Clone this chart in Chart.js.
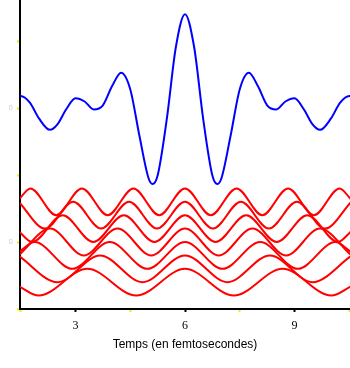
<!DOCTYPE html>
<html>
<head>
<meta charset="utf-8">
<script src="https://cdn.jsdelivr.net/npm/chart.js@4.4.1/dist/chart.umd.min.js"></script>
<style>
  html, body { margin: 0; padding: 0; background: #fff; }
  #cadre { width: 350px; height: 368px; }
</style>
</head>
<body>
<div id="cadre"><canvas id="graphe"></canvas></div>
<script>
// graduations des axes
const xTicks = [1.5, 3, 4.5, 6, 7.5, 9, 10.5]
const xLabels = ["", "3", "", "6", "", "9", ""]
const yTicks = [0, 1, 2, 3, 4]
const yLabels = ["", "0", "", "0", ""]

// paquet d'ondes (somme des composantes)
const tempsPaquet = [1.45, 1.5, 1.75, 2.0, 2.3, 2.5, 2.75, 3.0, 3.25, 3.5, 3.75, 4.0, 4.25, 4.5, 4.75, 5.0, 5.11, 5.25, 5.5, 5.75,
    6, 6.25, 6.5, 6.75, 6.89, 7.0, 7.25, 7.5, 7.75, 8.0, 8.25, 8.5, 8.75, 9.0, 9.25, 9.5, 9.7, 10.0, 10.25, 10.5, 10.55]
const paquet = [3.177, 3.18, 3.08, 2.844, 2.674, 2.751, 2.985, 3.145, 3.097, 2.978, 3.04, 3.323, 3.527, 3.281, 2.589, 1.955, 1.865, 1.992, 2.83, 3.91,
    4.4, 3.91, 2.83, 1.992, 1.865, 1.955, 2.589, 3.281, 3.527, 3.323, 3.04, 2.978, 3.097, 3.145, 2.985, 2.751, 2.674, 2.844, 3.08, 3.18, 3.177]

// composantes : crêtes et creux de chaque onde
const tempsOnde1 = [1.45, 1.99, 3.326, 4.663, 6, 7.337, 8.674, 10.01, 10.55]
const onde1 = [0.34, 0.2, 0.6, 0.2, 0.6, 0.2, 0.6, 0.2, 0.34]
const tempsOnde2 = [1.45, 2.509, 3.673, 4.836, 6, 7.164, 8.327, 9.491, 10.55]
const onde2 = [0.792, 0.4, 0.8, 0.4, 0.8, 0.4, 0.8, 0.4, 0.792]
const tempsOnde3 = [1.45, 1.88, 2.91, 3.94, 4.97, 6, 7.03, 8.06, 9.09, 10.12, 10.55]
const onde3 = [0.851, 1.0, 0.6, 1.0, 0.6, 1.0, 0.6, 1.0, 0.6, 1.0, 0.851]
const tempsOnde4 = [1.45, 2.304, 3.228, 4.152, 5.076, 6, 6.924, 7.848, 8.772, 9.696, 10.55]
const onde4 = [0.806, 1.2, 0.8, 1.2, 0.8, 1.2, 0.8, 1.2, 0.8, 1.2, 0.806]
const tempsOnde5 = [1.45, 1.811, 2.649, 3.487, 4.324, 5.162, 6, 6.838, 7.676, 8.513, 9.351, 10.189, 10.55]
const onde5 = [1.157, 1.0, 1.4, 1.0, 1.4, 1.0, 1.4, 1.0, 1.4, 1.0, 1.4, 1.0, 1.157]
const tempsOnde6 = [1.45, 2.169, 2.935, 3.702, 4.468, 5.234, 6, 6.766, 7.532, 8.298, 9.065, 9.831, 10.55]
const onde6 = [1.596, 1.2, 1.6, 1.2, 1.6, 1.2, 1.6, 1.2, 1.6, 1.2, 1.6, 1.2, 1.596]
const tempsOnde7 = [1.45, 1.764, 2.47, 3.176, 3.882, 4.588, 5.294, 6, 6.706, 7.412, 8.118, 8.824, 9.53, 10.236, 10.55]
const onde7 = [1.634, 1.8, 1.4, 1.8, 1.4, 1.8, 1.4, 1.8, 1.4, 1.8, 1.4, 1.8, 1.4, 1.8, 1.634]

const composantes = [
    [tempsOnde1, onde1], [tempsOnde2, onde2], [tempsOnde3, onde3], [tempsOnde4, onde4],
    [tempsOnde5, onde5], [tempsOnde6, onde6], [tempsOnde7, onde7]
]

function points(temps, valeurs) {
    return temps.map((t, i) => ({ x: t, y: valeurs[i] }))
}

function courbe(data, couleur) {
    return {
        data: data,
        borderColor: couleur,
        borderWidth: 2,
        pointRadius: 0,
        fill: false,
        cubicInterpolationMode: "monotone"
    }
}

const datasets = composantes.map(c => courbe(points(c[0], c[1]), "#ff0000"))
datasets.push(courbe(points(tempsPaquet, paquet), "#0000ff"))

const ctx = document.getElementById("graphe").getContext("2d")
new Chart(ctx, {
    type: "line",
    data: { datasets: datasets },
    options: {
        responsive: true,
        maintainAspectRatio: false,
        animation: false,
        layout: { padding: 0 },
        plugins: { legend: { display: false }, tooltip: { enabled: false } },
        scales: {
            x: {
                type: "linear",
                min: 1.48,
                max: 10.52,
                afterBuildTicks: s => { s.ticks = xTicks.map(v => ({ value: v })) },
                afterFit: s => { s.height = 59; s.paddingLeft = 0; s.paddingRight = 0 },
                ticks: {
                    autoSkip: false,
                    maxRotation: 0,
                    padding: 7,
                    color: "#000",
                    font: { family: "Liberation Serif", size: 12 },
                    callback: (v, i) => xLabels[i]
                },
                grid: {
                    drawOnChartArea: false,
                    tickLength: 3,
                    tickWidth: 2,
                    tickColor: c => xLabels[c.index] ? "#000" : "#f0f000"
                },
                border: { color: "#000", width: 2 },
                title: {
                    display: true,
                    text: "Temps (en femtosecondes)",
                    color: "#000",
                    font: { family: "Liberation Sans", size: 12 },
                    padding: { top: 0, bottom: 16 }
                }
            },
            y: {
                type: "linear",
                min: 0,
                max: 4.612,
                afterBuildTicks: s => { s.ticks = yTicks.map(v => ({ value: v })) },
                afterFit: s => { s.width = 20; s.paddingTop = 0; s.paddingBottom = 0 },
                ticks: {
                    padding: 4,
                    color: "#d0d0d0",
                    font: { family: "DejaVu Sans", size: 7 },
                    callback: (v, i) => yLabels[i]
                },
                grid: {
                    drawOnChartArea: false,
                    tickLength: 3,
                    tickWidth: 2,
                    tickColor: "#f0f000"
                },
                border: { color: "#000", width: 2 }
            }
        }
    }
})
</script>
</body>
</html>
